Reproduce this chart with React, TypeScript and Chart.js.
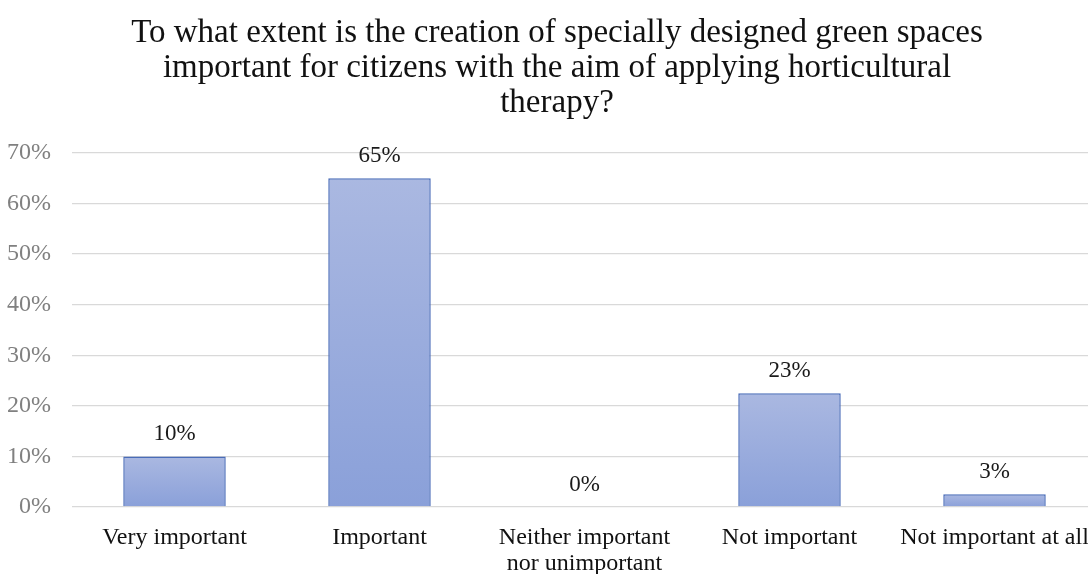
import React, { useEffect, useRef } from "react";
import { Chart, registerables } from "chart.js";

Chart.register(...registerables);

const titleLines = [
  "To what extent is the creation of specially designed green spaces",
  "important for citizens with the aim of applying horticultural",
  "therapy?",
];

const categories: (string | string[])[] = [
  "Very important",
  "Important",
  ["Neither important", "nor unimportant"],
  "Not important",
  "Not important at all",
];

// share of respondents, in percent
const shares = [10, 65, 0, 22.5, 2.5];

const yTicks = [0, 10, 20, 30, 40, 50, 60, 70];

const SERIF = '"Liberation Serif", "Times New Roman", serif';

// three-line heading, centred a little right of the canvas middle
const TITLE_SIZE = 33;
const TITLE_LINE = 35;
const TITLE_TOP = 16;
const TITLE_CENTER_X = 557;

const headingPlugin = {
  id: "heading",
  afterDraw(chart: Chart) {
    const ctx = chart.ctx;
    ctx.save();
    ctx.font = `${TITLE_SIZE}px ${SERIF}`;
    ctx.fillStyle = "#111111";
    ctx.textAlign = "center";
    ctx.textBaseline = "middle";
    titleLines.forEach((line, i) => {
      ctx.fillText(line, TITLE_CENTER_X, TITLE_TOP + TITLE_LINE / 2 + i * TITLE_LINE);
    });
    ctx.restore();
  },
};

const valueLabels = {
  id: "valueLabels",
  afterDatasetsDraw(chart: Chart) {
    const ctx = chart.ctx;
    const meta = chart.getDatasetMeta(0);
    ctx.save();
    ctx.font = `23px ${SERIF}`;
    ctx.fillStyle = "#1a1a1a";
    ctx.textAlign = "center";
    ctx.textBaseline = "alphabetic";
    meta.data.forEach((bar: any, i: number) => {
      const v = shares[i];
      ctx.fillText(`${Math.round(v)}%`, bar.x, bar.y - 16);
    });
    ctx.restore();
  },
};

export default function App() {
  const canvasRef = useRef<HTMLCanvasElement | null>(null);

  useEffect(() => {
    document.body.style.overflow = "hidden";
    const canvas = canvasRef.current;
    if (!canvas) return;

    const chart = new Chart(canvas, {
      type: "bar",
      data: {
        labels: categories,
        datasets: [
          {
            data: shares,
            backgroundColor: (context: any) => {
              const c = context.chart;
              const y = c.scales?.y;
              if (!y || context.parsed == null) return "#9aacdd";
              const top = y.getPixelForValue(context.parsed.y);
              const base = y.getPixelForValue(0);
              if (!isFinite(top) || base - top < 1) return "#9aacdd";
              const g = c.ctx.createLinearGradient(0, top, 0, base);
              g.addColorStop(0, "#aab8e1");
              g.addColorStop(1, "#8aa0d9");
              return g;
            },
            borderColor: "#4a6cb8",
            borderWidth: 1.5,
            borderSkipped: "bottom",
            barPercentage: 0.5,
            categoryPercentage: 1,
          },
        ],
      },
      options: {
        animation: false,
        responsive: true,
        maintainAspectRatio: false,
        layout: { padding: { left: 7, right: 33, top: 153, bottom: 0 } },
        plugins: {
          legend: { display: false },
          tooltip: { enabled: false },
          title: { display: false },
        },
        scales: {
          x: {
            grid: { display: false },
            border: { display: false },
            afterFit: (axis: any) => {
              axis.height = 67;
            },
            ticks: {
              color: "#111111",
              font: { family: SERIF, size: 24, lineHeight: 1.08 },
              padding: 10,
              maxRotation: 0,
              autoSkip: false,
            },
          },
          y: {
            min: 0,
            max: 70,
            afterBuildTicks: (axis: any) => {
              axis.ticks = yTicks.map((v) => ({ value: v }));
            },
            afterFit: (axis: any) => {
              axis.width = 65;
            },
            grid: { color: "#d9d9d9", lineWidth: 1.3, drawTicks: false },
            border: { display: false },
            ticks: {
              color: "#808080",
              font: { family: SERIF, size: 24 },
              padding: 21,
              callback: (v: any) => `${v}%`,
            },
          },
        },
      },
      plugins: [valueLabels, headingPlugin],
    });

    return () => chart.destroy();
  }, []);

  return (
    <div
      style={{
        position: "fixed",
        left: 0,
        top: 0,
        width: 1088,
        height: 574,
        overflow: "hidden",
        background: "#ffffff",
      }}
    >
      <div style={{ position: "relative", width: 1130, height: 574 }}>
        <canvas ref={canvasRef} />
      </div>
    </div>
  );
}
